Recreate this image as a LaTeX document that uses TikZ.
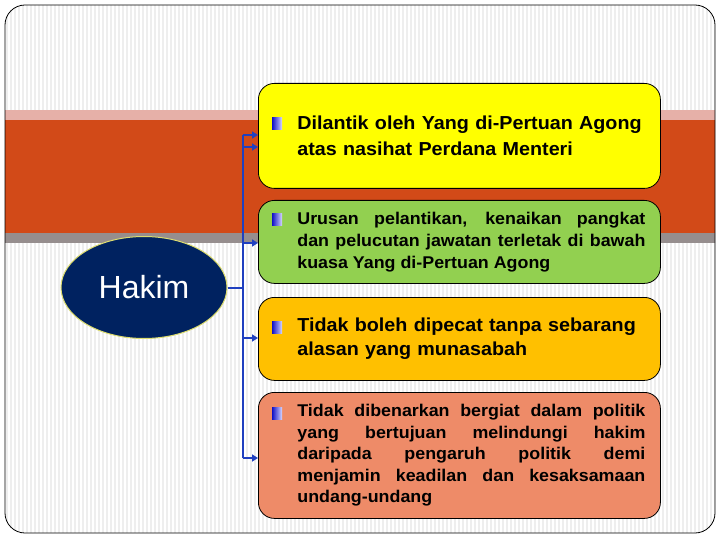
\documentclass[tikz,border=0pt]{standalone}
\usepackage{fontspec}
\setmainfont{Liberation Sans}
\newfontfamily\boxfont[FakeStretch=1.05]{Liberation Sans}
\usetikzlibrary{arrows.meta,shapes.geometric}
\definecolor{bandred}{RGB}{210,74,24}
\definecolor{bandpink}{RGB}{230,176,168}
\definecolor{bandgrey}{RGB}{150,142,142}
\definecolor{navy}{RGB}{0,34,96}
\definecolor{ellborder}{RGB}{220,220,110}
\definecolor{conblue}{RGB}{32,64,192}
\definecolor{boxyellow}{RGB}{255,255,0}
\definecolor{boxgreen}{RGB}{146,208,80}
\definecolor{boxorange}{RGB}{255,192,0}
\definecolor{boxsalmon}{RGB}{238,139,104}
\definecolor{stripe}{RGB}{238,238,238}
\definecolor{buldark}{RGB}{16,16,200}
\definecolor{bullight}{RGB}{215,215,255}
\hyphenpenalty=10000
\exhyphenpenalty=10000
\begin{document}
\begin{tikzpicture}[x=1pt,y=-1pt,
  card/.style={draw=black, line width=0.8pt, rounded corners=16pt, minimum width=402pt, anchor=north west, inner sep=0pt},
  bigtxt/.style={font=\boxfont\bfseries\fontsize{18.8}{26}\selectfont, text width=348pt, inner sep=0pt, align=left},
  smalltxt/.style={font=\boxfont\bfseries\fontsize{17}{22}\selectfont, text width=348pt, inner sep=0pt, align=justify},
  bul/.style={minimum width=10pt, minimum height=12pt, inner sep=0pt, left color=buldark, right color=bullight},
  link/.style={draw=conblue, line width=2pt},
  tip/.style={link, -{Triangle[length=6pt,width=7pt]}}
]
\useasboundingbox (0,0) rectangle (720,540);
% background
\begin{scope}
\clip[rounded corners=20pt] (5,5) rectangle (715,533);
\fill[white] (5,5) rectangle (715,533);
\foreach \x in {7,11,...,715} \draw[stripe, line width=1.2pt] (\x,5) -- (\x,533);
\fill[bandpink] (5,110) rectangle (716,120);
\fill[bandred] (5,120) rectangle (716,233);
\fill[bandgrey] (5,233) rectangle (716,243);
\end{scope}
\draw[rounded corners=20pt, line width=0.8pt] (5,5) rectangle (715,533);

% boxes
\node[card, fill=boxyellow, minimum height=105pt] (yellow) at (258,83) {};
\node[card, fill=boxgreen, minimum height=83pt] (green) at (258,200) {};
\node[card, fill=boxorange, minimum height=83pt] (orange) at (258,297) {};
\node[card, fill=boxsalmon, minimum height=126pt] (salmon) at (258,392) {};

\node[bigtxt] (t1) at ([xshift=12pt]yellow.center) {Dilantik oleh Yang di-Pertuan Agong\\atas nasihat Perdana Menteri};
\node[smalltxt] (t2) at ([xshift=12pt]green.center) {Urusan pelantikan, kenaikan pangkat\linebreak dan pelucutan jawatan terletak di bawah\linebreak kuasa Yang di-Pertuan Agong};
\node[bigtxt, font=\boxfont\bfseries\fontsize{18.8}{24}\selectfont] (t3) at ([xshift=12pt]orange.center) {Tidak boleh dipecat tanpa sebarang\\alasan yang munasabah};
\node[smalltxt, font=\boxfont\bfseries\fontsize{17}{21.5}\selectfont] (t4) at ([xshift=12pt]salmon.center) {Tidak dibenarkan bergiat dalam politik\linebreak yang bertujuan melindungi hakim\linebreak daripada pengaruh politik demi\linebreak menjamin keadilan dan kesaksamaan\linebreak undang-undang};

\node[bul] (b1) at (277,124) {};
\node[bul] (b2) at (277,220) {};
\node[bul] (b3) at (277,327) {};
\node[bul] (b4) at (277,413) {};

% Hakim
\node[ellipse, draw=ellborder, fill=navy, line width=1pt, minimum width=166pt, minimum height=102pt, inner sep=0pt, text=white, font=\fontsize{32}{38}\selectfont] (hakim) at (144,287.5) {Hakim};

% connectors
\coordinate (jtop) at (243,135);
\coordinate (jy2) at (243,147);
\coordinate (jg) at (243,243);
\coordinate (jo) at (243,338);
\coordinate (jbot) at (243,458);
\draw[link] (hakim.east) -- (hakim.east -| jtop);
\draw[link] (jtop) -- (jbot);
\draw[tip] (jtop) -- (yellow.west |- jtop);
\draw[tip] (jy2) -- (yellow.west |- jy2);
\draw[tip] (jg) -- (green.west |- jg);
\draw[tip] (jo) -- (orange.west |- jo);
\draw[tip] (jbot) -- (salmon.west |- jbot);
\end{tikzpicture}
\end{document}
